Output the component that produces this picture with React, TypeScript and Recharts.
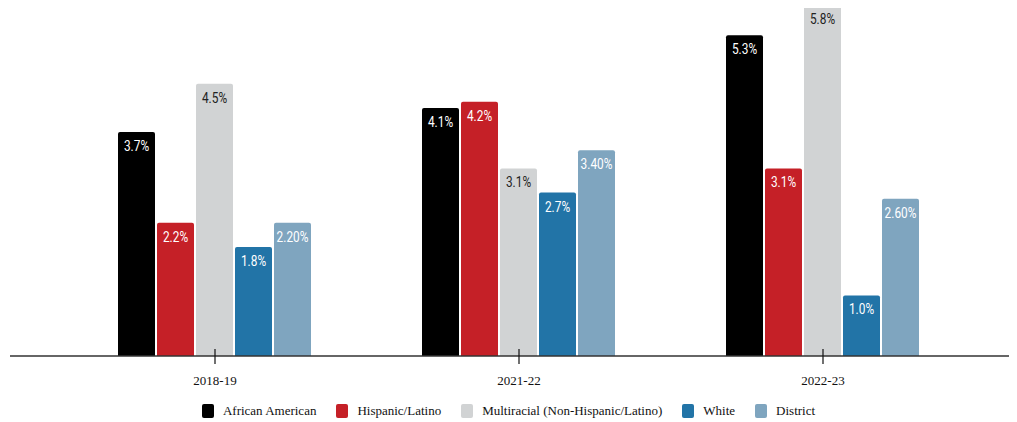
import { BarChart, Bar, XAxis, YAxis } from 'recharts';

const years = ['2018-19', '2021-22', '2022-23'];

const africanAmerican = [3.7, 4.1, 5.3];
const hispanicLatino = [2.2, 4.2, 3.1];
const multiracial = [4.5, 3.1, 5.8];
const white = [1.8, 2.7, 1.0];
const district = [2.2, 3.4, 2.6];

const districtLabels = ['2.20%', '3.40%', '2.60%'];

const series = [
  { key: 'aa', name: 'African American', color: '#000000', text: '#ffffff' },
  { key: 'hl', name: 'Hispanic/Latino', color: '#c52027', text: '#ffffff' },
  { key: 'mr', name: 'Multiracial (Non-Hispanic/Latino)', color: '#d1d3d4', text: '#222222' },
  { key: 'wh', name: 'White', color: '#2274a7', text: '#ffffff' },
  { key: 'di', name: 'District', color: '#7fa5bf', text: '#ffffff' },
];

const chartData = years.map((year, i) => ({
  year,
  aa: africanAmerican[i],
  hl: hispanicLatino[i],
  mr: multiracial[i],
  wh: white[i],
  di: district[i],
}));

const serif = "'Liberation Serif', 'Times New Roman', serif";

// condensed look: Roboto squeezed horizontally
const makeLabel = (fill: string, isDistrict: boolean) => (props: any) => {
  const { x, y, width, value, index } = props;
  const text = isDistrict ? districtLabels[index] : `${Number(value).toFixed(1)}%`;
  return (
    <text
      transform={`translate(${x + width / 2},${y + 19}) scale(0.82,1)`}
      textAnchor="middle"
      fill={fill}
      fontFamily="Roboto, sans-serif"
      fontSize={14.5}
    >
      {text}
    </text>
  );
};

const YearTick = (props: any) => {
  const { x, y, payload } = props;
  return (
    <g>
      <line x1={x} x2={x} y1={y - 7} y2={y + 8} stroke="#111" strokeWidth={1.2} />
      <text x={x} y={y + 29} textAnchor="middle" fill="#111" fontFamily={serif} fontSize={13}>
        {payload.value}
      </text>
    </g>
  );
};

export default function App() {
  return (
    <div
      style={{
        position: 'relative',
        marginTop: -8,
        marginLeft: -8,
        width: 1017,
        height: 422,
        background: '#fff',
      }}
    >
      <BarChart
        width={1017}
        height={422}
        data={chartData}
        margin={{ top: 5, right: 1, left: 10, bottom: 36 }}
        barCategoryGap={55}
        barGap={2}
      >
        <XAxis
          dataKey="year"
          axisLine={{ stroke: '#333', strokeWidth: 1.5 }}
          tickLine={false}
          tickSize={0}
          tickMargin={0}
          height={30}
          padding={{ left: 53, right: 41 }}
          tick={<YearTick />}
          interval={0}
        />
        <YAxis hide domain={[0, 5.8]} />
        {series.map((s) => (
          <Bar
            key={s.key}
            dataKey={s.key}
            name={s.name}
            fill={s.color}
            radius={[2, 2, 0, 0]}
            isAnimationActive={false}
            label={makeLabel(s.text, s.key === 'di')}
          />
        ))}
      </BarChart>
      {/* legend */}
      <div
        style={{
          position: 'absolute',
          left: 0,
          top: 403,
          width: 1017,
          display: 'flex',
          justifyContent: 'center',
          alignItems: 'center',
          gap: 20,
          fontFamily: serif,
          fontSize: 13,
          lineHeight: '16px',
          color: '#111',
        }}
      >
        {series.map((s) => (
          <div key={s.key} style={{ display: 'flex', alignItems: 'center' }}>
            <span
              style={{
                display: 'inline-block',
                width: 12,
                height: 14,
                borderRadius: 2,
                background: s.color,
                marginRight: 9,
              }}
            />
            <span>{s.name}</span>
          </div>
        ))}
      </div>
    </div>
  );
}
